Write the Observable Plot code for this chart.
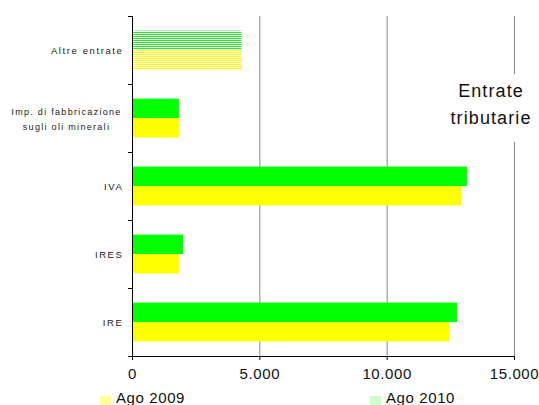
<!DOCTYPE html>
<html>
<head>
<meta charset="utf-8">
<script src="https://cdn.jsdelivr.net/npm/d3@7"></script>
<script src="https://cdn.jsdelivr.net/npm/@observablehq/plot@0.6"></script>
<style>
  body { margin: 0; background: #fff; font-family: "Liberation Sans", Arial, sans-serif; }
  #wrap { position: relative; width: 539px; height: 405px; overflow: hidden; }
  #title { position: absolute; left: 446px; top: 74px; width: 90px; height: 68px; background: #fff;
           text-align: center; font-size: 18px; line-height: 27px; color: #111; padding-top: 4px;
           box-sizing: border-box; letter-spacing: 1.1px; }
  #legend { position: absolute; left: 0; top: 388px; width: 539px; height: 20px; font-size: 15px; color: #111; letter-spacing: 0.6px; }
  .item { position: absolute; top: 0; display: flex; align-items: center; }
  .sw { width: 11px; height: 11px; margin-right: 5px; margin-top: 8px; }
  .ylab text { letter-spacing: 1.6px; }
  .ylab2 text { letter-spacing: 1.3px; }
  .xax text { letter-spacing: 0.6px; }
</style>
</head>
<body>
<div id="wrap">
  <div id="chart"></div>
  <div id="title">Entrate<br>tributarie</div>
  <div id="legend"></div>
</div>
<script>
const categories = ["Altre entrate", "Imp. di fabbricazione\nsugli oli minerali", "IVA", "IRES", "IRE"];
const ago2009 = [4300, 1840, 12920, 1840, 12450];
const ago2010 = [4300, 1840, 13150, 2000, 12760];
const xTicks = [0, 5000, 10000, 15000];
const seriesNames = ["Ago 2009", "Ago 2010"];

const rows = [];
categories.forEach((c, i) => {
  rows.push({cat: c, i, series: "Ago 2010", value: ago2010[i], y1: i + 0.215, y2: i + 0.5});
  rows.push({cat: c, i, series: "Ago 2009", value: ago2009[i], y1: i + 0.5, y2: i + 0.785});
});
const solid = rows.filter(d => d.i > 0);
const striped = rows.filter(d => d.i === 0);
const single = categories.map((c, i) => ({c, i})).filter(d => !d.c.includes("\n"));
const multi = categories.map((c, i) => ({c, i})).filter(d => d.c.includes("\n"));

const fmt = d => d3.format(",")(d).replace(/,/g, ".");

const svg = Plot.plot({
  width: 539,
  height: 388,
  marginLeft: 132,
  marginRight: 25,
  marginTop: 16,
  marginBottom: 32,
  style: {fontFamily: "Liberation Sans, Arial, sans-serif", background: "#fff"},
  x: {domain: [0, 15000], label: null},
  y: {domain: [0, 5], reverse: true, label: null},
  marks: [
    Plot.ruleX(xTicks.filter(d => d > 0), {stroke: "#888", strokeWidth: 1, strokeOpacity: 1}),
    Plot.rectX(solid, {x1: 0, x2: "value", y1: "y1", y2: "y2",
      fill: d => d.series === "Ago 2010" ? "#00ff00" : "#ffff00"}),
    Plot.rectX(striped, {x1: 0, x2: "value", y1: "y1", y2: "y2",
      fill: d => d.series === "Ago 2010" ? "url(#stripeG)" : "url(#stripeY)"}),
    Plot.ruleX([0], {stroke: "#000", strokeWidth: 1}),
    Plot.ruleY([5], {stroke: "#000", strokeWidth: 1}),
    Plot.axisY({ticks: d3.range(0, 6), tickSize: 4, tickFormat: () => "", stroke: "#000", label: null}),
    Plot.axisX({ticks: xTicks, tickSize: 4, tickFormat: fmt, fontSize: 15, tickPadding: 8,
      fill: "#111", label: null, className: "xax"}),
    Plot.text(single, {x: 0, y: d => d.i + 0.5, text: "c", textAnchor: "end", dx: -9,
      fontSize: 9.5, fill: "#222", className: "ylab"}),
    Plot.text(multi, {x: 0, y: d => d.i + 0.5, text: "c", textAnchor: "middle", dx: -66, dy: -1,
      fontSize: 9, fill: "#222", lineHeight: 1.75, className: "ylab2"})
  ]
});
svg.style.color = "#000";
const ns = "http://www.w3.org/2000/svg";
const defs = document.createElementNS(ns, "defs");
defs.innerHTML = `
  <pattern id="stripeG" patternUnits="userSpaceOnUse" width="4" height="2">
    <rect width="4" height="2" fill="#ffffff"/><rect width="4" height="1" fill="#22ee22"/>
  </pattern>
  <pattern id="stripeY" patternUnits="userSpaceOnUse" width="4" height="2">
    <rect width="4" height="2" fill="#ffffff"/><rect width="4" height="1" fill="#ffff00"/>
  </pattern>`;
svg.insertBefore(defs, svg.firstChild);
document.getElementById("chart").appendChild(svg);

const legend = document.getElementById("legend");
const legendColors = {"Ago 2009": "#ffff99", "Ago 2010": "#ccffcc"};
const legendX = {"Ago 2009": 100, "Ago 2010": 370};
seriesNames.forEach(s => {
  const it = document.createElement("div");
  it.className = "item";
  it.style.left = legendX[s] + "px";
  it.innerHTML = `<span class="sw" style="background:${legendColors[s]}"></span><span>${s}</span>`;
  legend.appendChild(it);
});
</script>
</body>
</html>
